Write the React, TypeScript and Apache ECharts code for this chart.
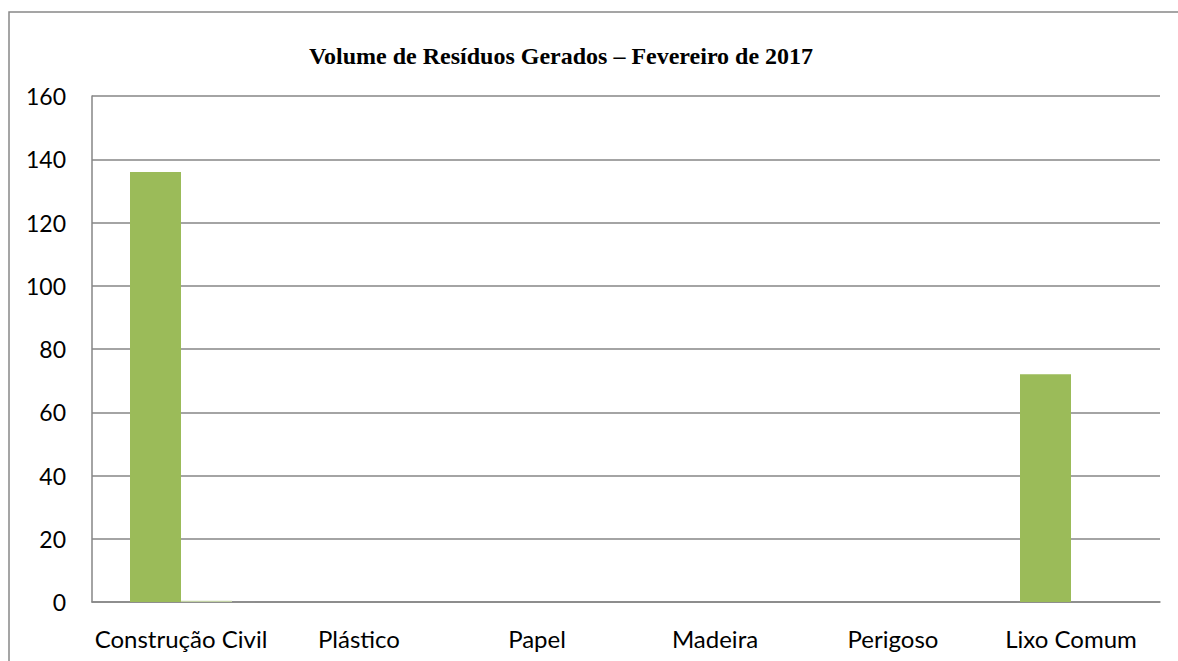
import React, { useEffect, useRef } from "react";
import * as echarts from "echarts";

const categories = ["Construção Civil", "Plástico", "Papel", "Madeira", "Perigoso", "Lixo Comum"];
const seriesMain = [136, 0, 0, 0, 0, 72];
const seriesSecond = [0.4, 0, 0, 0, 0, 0];
const titleText = "Volume de Resíduos Gerados – Fevereiro de 2017";

export default function App() {
  const ref = useRef<HTMLDivElement>(null);
  useEffect(() => {
    if (!ref.current) return;
    const chart = echarts.init(ref.current, null, { renderer: "svg" });
    const font = "Lato, 'Open Sans', sans-serif";
    chart.setOption({
      animation: false,
      backgroundColor: "#ffffff",
      graphic: [
        {
          type: "rect",
          shape: { x: 9, y: 12, width: 1200, height: 700 },
          style: { fill: "none", stroke: "#888888", lineWidth: 1.5 },
          silent: true,
        },
        {
          type: "text",
          x: 561,
          y: 56,
          style: {
            text: titleText,
            font: "bold 24px 'Liberation Serif', 'Times New Roman', serif",
            fill: "#000000",
            align: "center",
            verticalAlign: "middle",
          },
        },
      ],
      grid: { left: 92, top: 96, right: 18, bottom: 59, containLabel: false },
      xAxis: {
        type: "category",
        data: categories,
        axisLine: { show: true, lineStyle: { color: "#868686", width: 1.5 } },
        axisTick: { show: false },
        axisLabel: { color: "#000000", fontSize: 24, fontFamily: font, margin: 24, interval: 0 },
        splitLine: { show: false },
      },
      yAxis: {
        type: "value",
        min: 0,
        max: 160,
        interval: 20,
        axisLine: { show: true, lineStyle: { color: "#868686", width: 1.5 } },
        axisTick: { show: false },
        axisLabel: { color: "#000000", fontSize: 23, fontFamily: font, margin: 26 },
        splitLine: { show: true, lineStyle: { color: "#868686", width: 1.5 } },
      },
      series: [
        {
          type: "bar",
          data: seriesMain,
          barWidth: 51,
          barGap: "0%",
          itemStyle: { color: "#9BBB59" },
        },
        {
          type: "bar",
          data: seriesSecond,
          barWidth: 51,
          barGap: "0%",
          itemStyle: { color: "#C4D3A6" },
        },
      ],
    });
    return () => chart.dispose();
  }, []);
  return (
    <div
      ref={ref}
      style={{ position: "absolute", left: 0, top: 0, width: 1178, height: 661 }}
    />
  );
}
